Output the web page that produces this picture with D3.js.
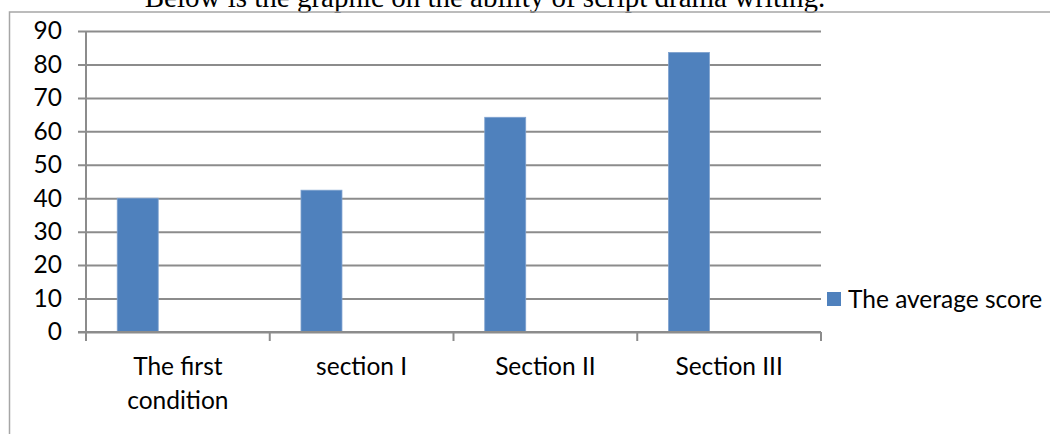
<!DOCTYPE html>
<html>
<head>
<meta charset="utf-8">
<script src="https://cdn.jsdelivr.net/npm/d3@7"></script>
<style>
  html, body { margin: 0; padding: 0; background: #fff; }
  svg { display: block; }
</style>
</head>
<body>
<svg id="chart" width="1050" height="434"></svg>
<script>
// Average scores for script drama writing, per stage
const categories = ["The first condition", "section I", "Section II", "Section III"];
const averageScore = [40, 42.4, 64.2, 83.6];
const seriesName = "The average score";
const yTicks = [0, 10, 20, 30, 40, 50, 60, 70, 80, 90];
const titleText = "Below is the graphic on the ability of script drama writing.";

const svg = d3.select("#chart");
const labelFont = "Lato, 'Open Sans', sans-serif";
const gridColor = "#8c8c8c";

const plot = { left: 86, right: 821, top: 31, bottom: 332 };

// Title (Times), sits above the chart frame
svg.append("text")
  .attr("x", 485)
  .attr("y", 7)
  .attr("text-anchor", "middle")
  .attr("font-family", "'Liberation Serif', 'Times New Roman', serif")
  .attr("font-size", 29)
  .attr("fill", "#000")
  .text(titleText);

// Chart frame
svg.append("rect")
  .attr("x", 9.5)
  .attr("y", 12)
  .attr("width", 1100)
  .attr("height", 500)
  .attr("fill", "none")
  .attr("stroke", "#a6a6a6")
  .attr("stroke-width", 1.5);

const x = d3.scaleBand()
  .domain(categories)
  .range([plot.left, plot.right])
  .paddingInner(0)
  .paddingOuter(0);

const y = d3.scaleLinear()
  .domain([0, 90])
  .range([plot.bottom, plot.top]);

// Horizontal gridlines with outside tick marks on the value axis
const yAxis = d3.axisLeft(y)
  .tickValues(yTicks)
  .tickSize(-(plot.right - plot.left))
  .tickSizeOuter(0)
  .tickPadding(24)
  .tickFormat(d3.format("d"));

const gy = svg.append("g")
  .attr("transform", `translate(${plot.left},0)`)
  .call(yAxis);
gy.select(".domain").remove();
gy.selectAll(".tick line")
  .attr("x1", -8)
  .attr("stroke", gridColor)
  .attr("stroke-width", 2);
gy.selectAll(".tick text")
  .attr("font-family", labelFont)
  .attr("font-size", 24.5)
  .attr("fill", "#000");

// Value axis line
svg.append("line")
  .attr("x1", plot.left).attr("x2", plot.left)
  .attr("y1", plot.top).attr("y2", plot.bottom)
  .attr("stroke", gridColor)
  .attr("stroke-width", 2);

// Bars: a single series in a two-slot cluster, so each bar sits left of the band centre
const barOffset = 0.17;   // fraction of the band before the bar
const barWidth = 0.223;   // fraction of the band taken by the bar

svg.append("g")
  .selectAll("rect")
  .data(categories.map((c, i) => ({ c, v: averageScore[i] })))
  .join("rect")
  .attr("x", d => x(d.c) + x.bandwidth() * barOffset)
  .attr("width", x.bandwidth() * barWidth)
  .attr("y", d => y(d.v))
  .attr("height", d => y(0) - y(d.v))
  .attr("fill", "#4f81bd")
  .attr("stroke", "#7fa2cf")
  .attr("stroke-width", 0.8);

// Category axis with tick marks on the band edges
svg.append("line")
  .attr("x1", plot.left - 8).attr("x2", plot.right)
  .attr("y1", plot.bottom).attr("y2", plot.bottom)
  .attr("stroke", gridColor)
  .attr("stroke-width", 2);

const edges = categories.map(c => x(c)).concat([x(categories[categories.length - 1]) + x.bandwidth()]);
svg.append("g")
  .selectAll("line")
  .data(edges)
  .join("line")
  .attr("x1", d => d).attr("x2", d => d)
  .attr("y1", plot.bottom).attr("y2", plot.bottom + 9)
  .attr("stroke", gridColor)
  .attr("stroke-width", 2);

// Category labels, wrapped onto two lines where needed
const wrapped = { "The first condition": ["The first", "condition"] };
const catLabels = svg.append("g")
  .selectAll("text")
  .data(categories)
  .join("text")
  .attr("x", d => x(d) + x.bandwidth() / 2)
  .attr("y", 375)
  .attr("text-anchor", "middle")
  .attr("font-family", labelFont)
  .attr("font-size", 24.5)
  .attr("fill", "#000");
catLabels.each(function (d) {
  const lines = wrapped[d] || [d];
  d3.select(this).selectAll("tspan")
    .data(lines)
    .join("tspan")
    .attr("x", x(d) + x.bandwidth() / 2)
    .attr("dy", (l, i) => i === 0 ? 0 : 34)
    .text(l => l);
});

// Legend
const legend = svg.append("g").attr("transform", "translate(827,292)");
legend.append("rect")
  .attr("width", 14).attr("height", 14)
  .attr("fill", "#4f81bd");
legend.append("text")
  .attr("x", 21)
  .attr("y", 7)
  .attr("dy", "0.35em")
  .attr("font-family", labelFont)
  .attr("font-size", 24.5)
  .attr("fill", "#000")
  .text(seriesName);
</script>
</body>
</html>
